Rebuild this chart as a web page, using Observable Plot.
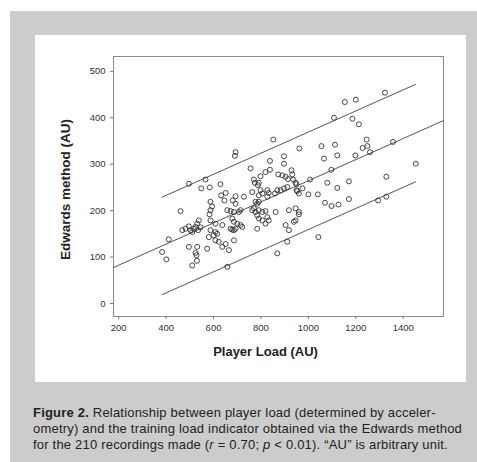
<!DOCTYPE html>
<html>
<head>
<meta charset="utf-8">
<script src="https://cdn.jsdelivr.net/npm/d3@7"></script>
<script src="https://cdn.jsdelivr.net/npm/@observablehq/plot@0.6"></script>
<style>
  html, body { margin: 0; padding: 0; background: #ffffff; }
  body { width: 477px; height: 462px; position: relative; overflow: hidden; font-family: "Liberation Sans", Arial, sans-serif; }
  #panel { position: absolute; left: 10px; top: 11px; width: 467px; height: 451px; background: #cccccc; }
  #card { position: absolute; left: 35px; top: 35px; width: 431px; height: 347px; background: #ffffff; }
  #chart { position: absolute; left: 35px; top: 35px; }
  #caption { position: absolute; left: 33px; top: 405px; width: 440px; font-size: 13px; letter-spacing: 0.2px; line-height: 16px; color: #222; white-space: nowrap; }
  #caption b { font-weight: bold; }
</style>
</head>
<body>
<div id="panel"></div>
<div id="card"></div>
<div id="chart"></div>
<div id="caption"><b>Figure 2.</b> Relationship between player load (determined by acceler-<br>ometry) and the training load indicator obtained via the Edwards method<br>for the 210 recordings made (<i>r</i> = 0.70; <i>p</i> &lt; 0.01). “AU” is arbitrary unit.</div>
<script>
// Player Load (AU) and Edwards method (AU)
const playerLoad = [
  496,566,548,584,629,632,651,646,587,594,587,583,461,658,538,531,524,517,535,510,545,468,482,496,503,411,383,401,496,531,524,528,573,580,601,608,622,637,651,665,510,530,615,608,587,608,637,587,658,
  693,690,756,838,897,897,798,819,838,873,890,904,914,929,932,936,946,770,774,787,791,693,763,798,806,827,833,791,777,728,827,859,869,883,897,911,950,960,681,693,784,791,672,686,707,714,763,770,777,791,806,819,862,918,946,960,679,686,700,714,721,672,679,686,693,784,791,806,827,833,819,904,918,939,784,686,911,869,
  1108,1154,1200,1323,1186,1213,1246,852,962,1055,1112,1229,1249,1260,1198,1122,1066,1357,1453,1097,1007,1080,1122,1171,1329,975,953,1000,1040,1070,1098,1127,1171,1294,1329,1042,950,960,946
];
const edwards = [
  258,267,248,250,257,233,238,222,219,209,201,192,199,201,179,172,165,161,158,154,164,158,161,166,158,138,111,95,122,122,109,104,118,143,147,136,133,122,128,115,82,92,150,154,158,172,169,179,79,
  326,318,291,307,317,301,274,283,288,278,276,273,268,287,278,267,260,267,260,255,260,231,240,244,237,244,238,233,219,230,230,237,244,244,248,251,244,237,222,215,215,219,199,197,197,201,201,205,197,201,197,199,197,201,205,197,183,176,172,169,165,161,159,158,161,190,183,179,186,179,172,169,158,176,161,136,133,108,
  400,434,439,454,398,386,353,353,334,339,342,335,339,326,319,319,312,348,301,288,267,260,249,263,273,248,242,235,235,217,210,213,225,222,230,143,257,192,179
];
// regression line and its +/- band
const fitX = [178, 1570];
const fitY = [77.5, 394];
const bandX = [383, 1452];
const upperY = [229, 472];
const lowerY = [19, 262];
const xTicks = [200, 400, 600, 800, 1000, 1200, 1400];
const yTicks = [0, 100, 200, 300, 400, 500];

const points = playerLoad.map((x, i) => ({x, y: edwards[i]}));
const fit = fitX.map((x, i) => ({x, y: fitY[i]}));
const upper = bandX.map((x, i) => ({x, y: upperY[i]}));
const lower = bandX.map((x, i) => ({x, y: lowerY[i]}));

const chart = Plot.plot({
  width: 431,
  height: 347,
  marginLeft: 78,
  marginRight: 23,
  marginTop: 21,
  marginBottom: 66,
  style: {background: "transparent", fontFamily: "'Liberation Sans', Arial, sans-serif", fontSize: "9.5px", color: "#333"},
  x: {domain: [178, 1570], ticks: xTicks, label: null},
  y: {domain: [-28, 532], ticks: yTicks, label: null},
  marks: [
    Plot.frame({stroke: "#8a8a8a", strokeWidth: 1}),
    Plot.axisX({ticks: xTicks, tickFormat: d => String(d), tickSize: 3, tickPadding: 5, stroke: "#777", fill: "#333", label: null}),
    Plot.axisY({ticks: yTicks, tickFormat: d => String(d), tickSize: 3, tickPadding: 5, stroke: "#777", fill: "#333", label: null}),
    Plot.line(fit, {x: "x", y: "y", stroke: "#555", strokeWidth: 1}),
    Plot.line(upper, {x: "x", y: "y", stroke: "#555", strokeWidth: 1}),
    Plot.line(lower, {x: "x", y: "y", stroke: "#555", strokeWidth: 1}),
    Plot.dot(points, {x: "x", y: "y", r: 2.5, stroke: "#333", strokeWidth: 0.9, fill: "none"}),
    Plot.text(["Player Load (AU)"], {frameAnchor: "bottom", dx: -13, dy: 39, textAnchor: "middle", fontSize: 13, fontWeight: "bold", fill: "#222"}),
    Plot.text(["Edwards method (AU)"], {frameAnchor: "left", dx: -48, dy: 3, rotate: -90, textAnchor: "middle", fontSize: 13.5, fontWeight: "bold", fill: "#222"})
  ]
});
document.getElementById("chart").appendChild(chart);
</script>
</body>
</html>
